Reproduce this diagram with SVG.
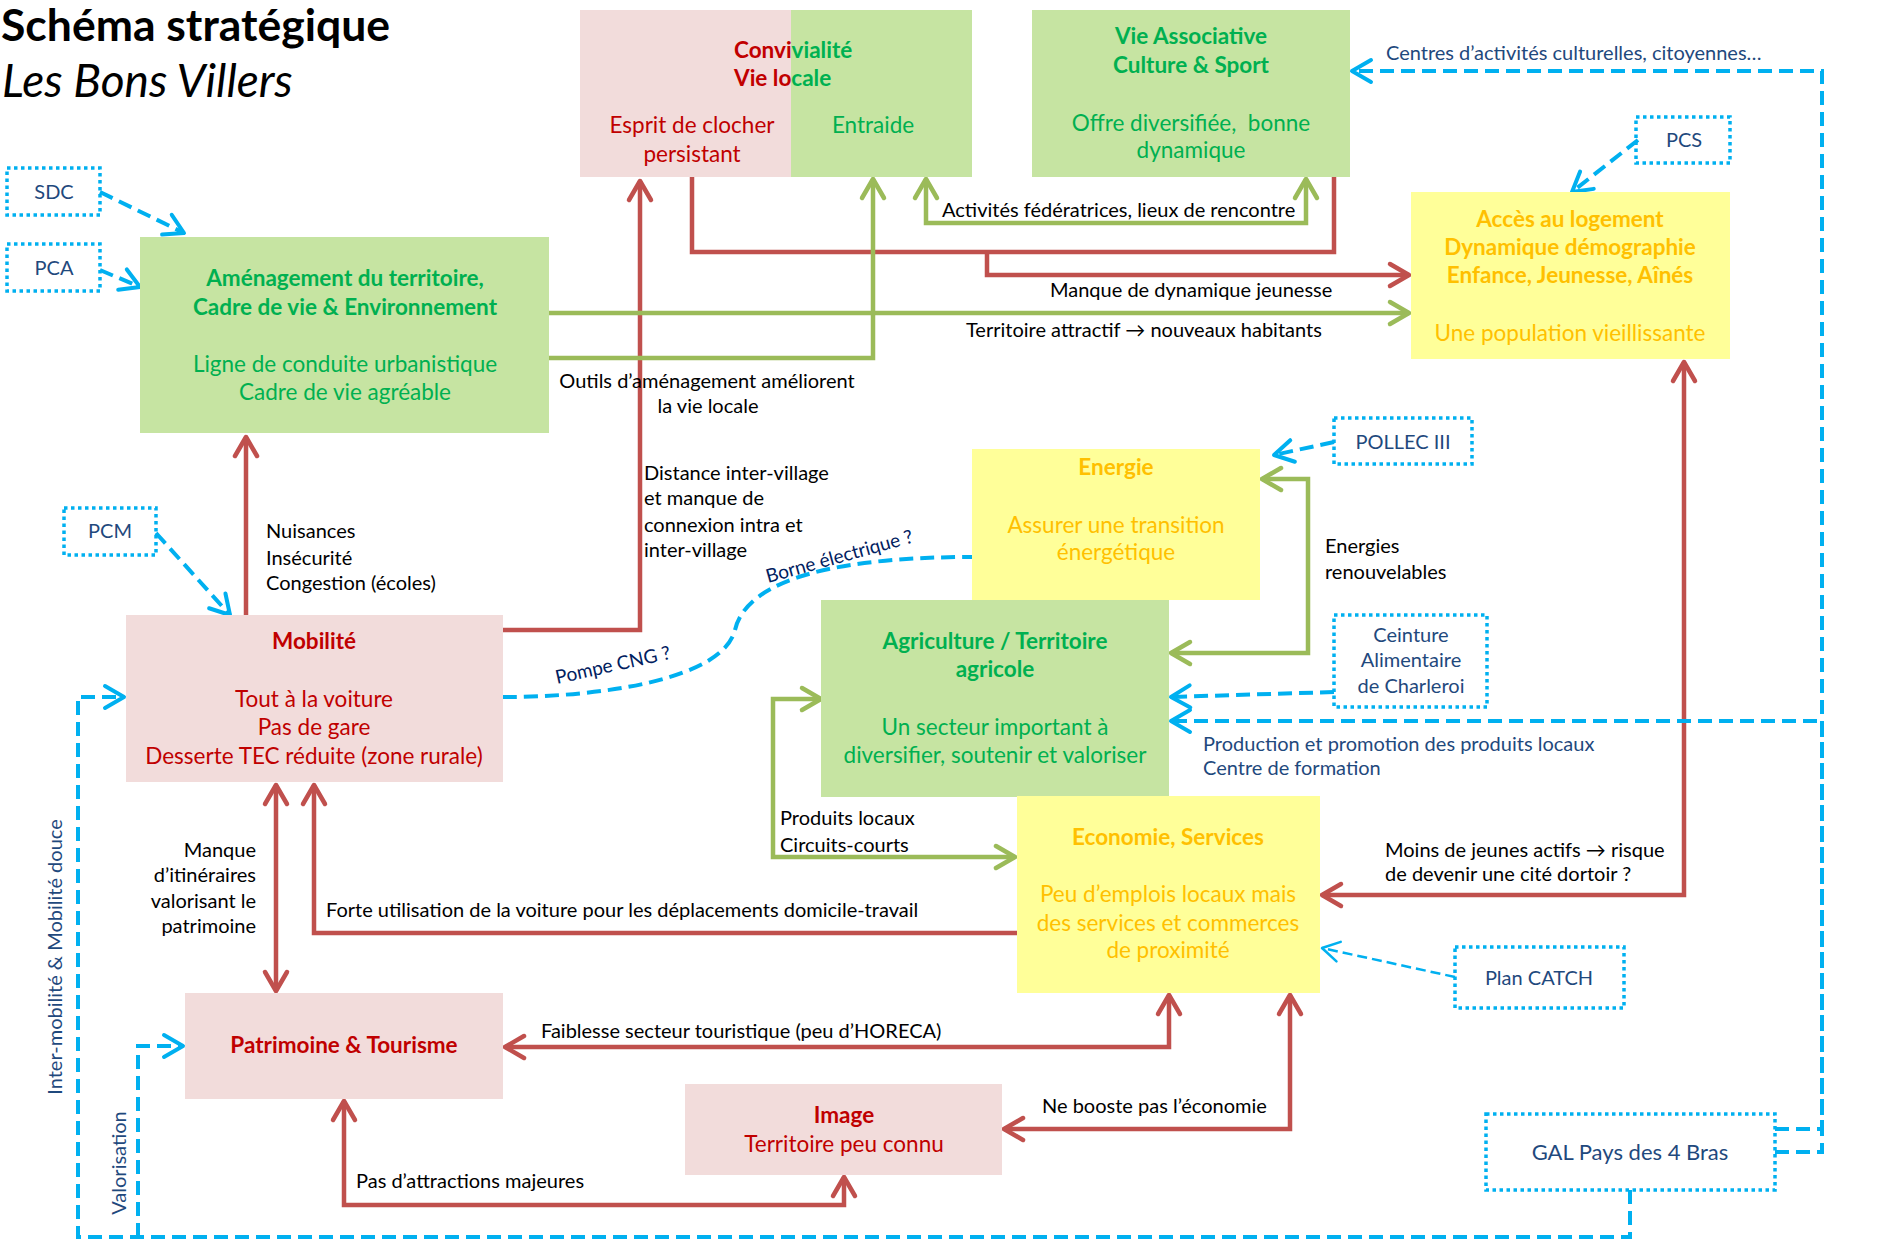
<svg xmlns="http://www.w3.org/2000/svg" width="1883" height="1253" viewBox="0 0 1883 1253">
<defs>
<style>
text{font-family:Lato,'Liberation Sans',sans-serif}
.title{font-size:44.5px;font-weight:bold;fill:#000}
.sub{font-size:46px;font-style:italic;fill:#000}
.h{font-size:22.5px;font-weight:bold;text-anchor:middle}
.b{font-size:22.5px;text-anchor:middle}
.red{fill:#C00000}.grn{fill:#00B050}.org{fill:#FFC000}
.lbl{font-size:20px;fill:#000}
.nav{font-size:20px;fill:#1F497D}
.c{text-anchor:middle}.e{text-anchor:end}
.pink{fill:#F2DCDB}.lg{fill:#C6E4A2}.yel{fill:#FFFF99}
.dot{fill:none;stroke:#00B0F0;stroke-width:3.5;stroke-dasharray:3.5 3.5}
.rc{fill:none;stroke:#C0504D;stroke-width:4.5}
.gc{fill:none;stroke:#9BBB59;stroke-width:4.5}
.bc{fill:none;stroke:#00B0F0;stroke-width:4;stroke-dasharray:14 7}
.bt{fill:none;stroke:#00B0F0;stroke-width:2.5;stroke-dasharray:10 5}
</style>
<linearGradient id="conv" gradientUnits="userSpaceOnUse" x1="580" y1="0" x2="972" y2="0">
<stop offset="0.538" stop-color="#C00000"/><stop offset="0.538" stop-color="#00B050"/>
</linearGradient>
<marker id="ar" markerUnits="userSpaceOnUse" markerWidth="40" markerHeight="40" viewBox="-25 -20 40 40" refX="0" refY="0" orient="auto-start-reverse" overflow="visible"><path d="M-19,-11 L0,0 L-19,11" fill="none" stroke="#C0504D" stroke-width="4.5" stroke-linejoin="round" stroke-linecap="round"/></marker>
<marker id="ag" markerUnits="userSpaceOnUse" markerWidth="40" markerHeight="40" viewBox="-25 -20 40 40" refX="0" refY="0" orient="auto-start-reverse" overflow="visible"><path d="M-19,-11 L0,0 L-19,11" fill="none" stroke="#9BBB59" stroke-width="4.5" stroke-linejoin="round" stroke-linecap="round"/></marker>
<marker id="ab" markerUnits="userSpaceOnUse" markerWidth="40" markerHeight="40" viewBox="-25 -20 40 40" refX="0" refY="0" orient="auto-start-reverse" overflow="visible"><path d="M-19,-11 L0,0 L-19,11" fill="none" stroke="#00B0F0" stroke-width="4" stroke-linejoin="round" stroke-linecap="round"/></marker>
<marker id="abt" markerUnits="userSpaceOnUse" markerWidth="40" markerHeight="40" viewBox="-25 -20 40 40" refX="0" refY="0" orient="auto-start-reverse" overflow="visible"><path d="M-17,-10 L0,0 L-17,10" fill="none" stroke="#00B0F0" stroke-width="2.5" stroke-linejoin="round" stroke-linecap="round"/></marker>
</defs>
<rect width="1883" height="1253" fill="#fff"/>

<g id="title">
<text x="1" y="41" class="title">Schéma stratégique</text>
<text x="2" y="97" class="sub">Les Bons Villers</text>
</g>

<g id="connectors">
<!-- red -->
<path class="rc" d="M246,615 V437" marker-end="url(#ar)"/>
<path class="rc" d="M503,630 H640 V181" marker-end="url(#ar)"/>
<path class="rc" d="M692,177 V252 H1334 V177"/>
<path class="rc" d="M987,252 V275 H1409" marker-end="url(#ar)"/>
<path class="rc" d="M1322,895 H1684 V362" marker-start="url(#ar)" marker-end="url(#ar)"/>
<path class="rc" d="M1017,933 H314 V785" marker-end="url(#ar)"/>
<path class="rc" d="M276,785 V991" marker-start="url(#ar)" marker-end="url(#ar)"/>
<path class="rc" d="M505,1047 H1169 V995" marker-start="url(#ar)" marker-end="url(#ar)"/>
<path class="rc" d="M1004,1129 H1290 V995" marker-start="url(#ar)" marker-end="url(#ar)"/>
<path class="rc" d="M344,1101 V1205 H844 V1177" marker-start="url(#ar)" marker-end="url(#ar)"/>
<!-- green -->
<path class="gc" d="M549,313 H1409" marker-end="url(#ag)"/>
<path class="gc" d="M549,358 H873 V179" marker-end="url(#ag)"/>
<path class="gc" d="M926,179 V223 H1306 V179" marker-start="url(#ag)" marker-end="url(#ag)"/>
<path class="gc" d="M1262,479 H1308 V653 H1171" marker-start="url(#ag)" marker-end="url(#ag)"/>
<path class="gc" d="M821,699 H773 V857 H1015" marker-start="url(#ag)" marker-end="url(#ag)"/>
<!-- blue -->
<path class="bc" d="M100,192 L184,233" marker-end="url(#ab)"/>
<path class="bc" d="M100,270 L140,287" marker-end="url(#ab)"/>
<path class="bc" d="M156,533 L230,615" marker-end="url(#ab)"/>
<path class="bc" d="M1638,140 L1572,192" marker-end="url(#ab)"/>
<path class="bc" d="M1334,442 L1274,455" marker-end="url(#ab)"/>
<path class="bc" d="M1334,692 L1171,697" marker-end="url(#ab)"/>
<path class="bt" d="M1455,977 L1322,948" marker-end="url(#abt)"/>
<path class="bc" d="M503,697 C600,697 722,680 735,630 C748,575 850,557 972,557"/>
<path class="bc" d="M1775,1129 H1822 V71 H1352" marker-end="url(#ab)"/>
<path class="bc" d="M1775,1152 H1822 V721 H1171" marker-end="url(#ab)"/>
<path class="bc" d="M1630,1190 V1237 H78 V697 H124" marker-end="url(#ab)"/>
<path class="bc" d="M138,1237 V1046 H183" marker-end="url(#ab)"/>
</g>

<g id="labels">
<text class="lbl" x="266" y="538">Nuisances</text>
<text class="lbl" x="266" y="565">Insécurité</text>
<text class="lbl" x="266" y="590">Congestion (écoles)</text>
<text class="lbl c" x="707" y="388">Outils d’aménagement améliorent</text>
<text class="lbl c" x="708" y="413">la vie locale</text>
<text class="lbl" x="644" y="480">Distance inter-village</text>
<text class="lbl" x="644" y="505">et manque de</text>
<text class="lbl" x="644" y="532">connexion intra et</text>
<text class="lbl" x="644" y="557">inter-village</text>
<text class="lbl" x="942" y="217">Activités fédératrices, lieux de rencontre</text>
<text class="lbl" x="1050" y="297">Manque de dynamique jeunesse</text>
<text class="lbl" x="966" y="337">Territoire attractif → nouveaux habitants</text>
<text class="nav" x="1386" y="60">Centres d’activités culturelles, citoyennes…</text>
<text class="lbl" x="1325" y="553">Energies</text>
<text class="lbl" x="1325" y="579">renouvelables</text>
<text class="nav" x="1203" y="751">Production et promotion des produits locaux</text>
<text class="nav" x="1203" y="775">Centre de formation</text>
<text class="lbl" x="780" y="825">Produits locaux</text>
<text class="lbl" x="780" y="852">Circuits-courts</text>
<text class="lbl" x="1385" y="857">Moins de jeunes actifs → risque</text>
<text class="lbl" x="1385" y="881">de devenir une cité dortoir ?</text>
<text class="lbl e" x="256" y="857">Manque</text>
<text class="lbl e" x="256" y="882">d’itinéraires</text>
<text class="lbl e" x="256" y="908">valorisant le</text>
<text class="lbl e" x="256" y="933">patrimoine</text>
<text class="lbl" x="326" y="917">Forte utilisation de la voiture pour les déplacements domicile-travail</text>
<text class="lbl" x="541" y="1038">Faiblesse secteur touristique (peu d’HORECA)</text>
<text class="lbl" x="1042" y="1113">Ne booste pas l’économie</text>
<text class="lbl" x="356" y="1188">Pas d’attractions majeures</text>
<text class="nav c" transform="translate(62,957) rotate(-90)">Inter-mobilité &amp; Mobilité douce</text>
<text class="nav c" transform="translate(126,1163) rotate(-90)">Valorisation</text>
<text class="nav" style="fill:#002060;font-size:19px" transform="translate(557,684) rotate(-12.5)">Pompe CNG ?</text>
<text class="nav" style="fill:#002060;font-size:19px" transform="translate(768,583) rotate(-15.6)">Borne électrique ?</text>
</g>

<g id="convivialite">
<rect class="pink" x="580" y="10" width="211" height="167"/>
<rect class="lg" x="791" y="10" width="181" height="167"/>
<text x="734" y="58" style="font-size:22.5px;font-weight:bold" fill="url(#conv)">Convivialité</text>
<text x="734" y="86" style="font-size:22.5px;font-weight:bold" fill="url(#conv)">Vie locale</text>
<text class="b red" x="692" y="133">Esprit de clocher</text>
<text class="b red" x="692" y="162">persistant</text>
<text class="b grn" x="873" y="133">Entraide</text>
</g>

<g id="vie-associative">
<rect class="lg" x="1032" y="10" width="318" height="167"/>
<text class="h grn" x="1191" y="44">Vie Associative</text>
<text class="h grn" x="1191" y="73">Culture &amp; Sport</text>
<text class="b grn" x="1191" y="131">Offre diversifiée,&#160; bonne</text>
<text class="b grn" x="1191" y="158">dynamique</text>
</g>

<g id="acces-logement">
<rect class="yel" x="1411" y="192" width="319" height="167"/>
<text class="h org" x="1570" y="227">Accès au logement</text>
<text class="h org" x="1570" y="255">Dynamique démographie</text>
<text class="h org" x="1570" y="283">Enfance, Jeunesse, Aînés</text>
<text class="b org" x="1570" y="341">Une population vieillissante</text>
</g>

<g id="amenagement">
<rect class="lg" x="140" y="237" width="409" height="196"/>
<text class="h grn" x="345" y="286">Aménagement du territoire,</text>
<text class="h grn" x="345" y="315">Cadre de vie &amp; Environnement</text>
<text class="b grn" x="345" y="372">Ligne de conduite urbanistique</text>
<text class="b grn" x="345" y="400">Cadre de vie agréable</text>
</g>

<g id="mobilite">
<rect class="pink" x="126" y="615" width="377" height="167"/>
<text class="h red" x="314" y="649">Mobilité</text>
<text class="b red" x="314" y="707">Tout à la voiture</text>
<text class="b red" x="314" y="735">Pas de gare</text>
<text class="b red" x="314" y="764">Desserte TEC réduite (zone rurale)</text>
</g>

<g id="energie">
<rect class="yel" x="972" y="449" width="288" height="151"/>
<text class="h org" x="1116" y="475">Energie</text>
<text class="b org" x="1116" y="533">Assurer une transition</text>
<text class="b org" x="1116" y="560">énergétique</text>
</g>

<g id="agriculture">
<rect class="lg" x="821" y="600" width="348" height="197"/>
<text class="h grn" x="995" y="649">Agriculture / Territoire</text>
<text class="h grn" x="995" y="677">agricole</text>
<text class="b grn" x="995" y="735">Un secteur important à</text>
<text class="b grn" x="995" y="763">diversifier, soutenir et valoriser</text>
</g>

<g id="economie">
<rect class="yel" x="1017" y="796" width="303" height="197"/>
<text class="h org" x="1168" y="845">Economie, Services</text>
<text class="b org" x="1168" y="902">Peu d’emplois locaux mais</text>
<text class="b org" x="1168" y="931">des services et commerces</text>
<text class="b org" x="1168" y="958">de proximité</text>
</g>

<g id="patrimoine">
<rect class="pink" x="185" y="993" width="318" height="106"/>
<text class="h red" x="344" y="1053">Patrimoine &amp; Tourisme</text>
</g>

<g id="image">
<rect class="pink" x="685" y="1084" width="317" height="91"/>
<text class="h red" x="844" y="1123">Image</text>
<text class="b red" x="844" y="1152">Territoire peu connu</text>
</g>

<g id="sdc"><rect class="dot" x="7" y="168" width="93" height="47"/><text class="nav c" x="54" y="199">SDC</text></g>
<g id="pca"><rect class="dot" x="7" y="244" width="93" height="47"/><text class="nav c" x="54" y="275">PCA</text></g>
<g id="pcm"><rect class="dot" x="64" y="508" width="92" height="47"/><text class="nav c" x="110" y="538">PCM</text></g>
<g id="pollec"><rect class="dot" x="1334" y="418" width="138" height="46"/><text class="nav c" x="1403" y="449">POLLEC III</text></g>
<g id="pcs"><rect class="dot" x="1636" y="117" width="94" height="46"/><text class="nav c" x="1684" y="147">PCS</text></g>
<g id="ceinture"><rect class="dot" x="1334" y="615" width="153" height="92"/>
<text class="nav c" x="1411" y="642">Ceinture</text>
<text class="nav c" x="1411" y="667">Alimentaire</text>
<text class="nav c" x="1411" y="693">de Charleroi</text></g>
<g id="plan-catch"><rect class="dot" x="1455" y="947" width="169" height="61"/><text class="nav c" x="1539" y="985">Plan CATCH</text></g>
<g id="gal"><rect class="dot" x="1486" y="1114" width="289" height="76"/><text class="nav c" style="font-size:22px" x="1630" y="1160">GAL Pays des 4 Bras</text></g>
</svg>
